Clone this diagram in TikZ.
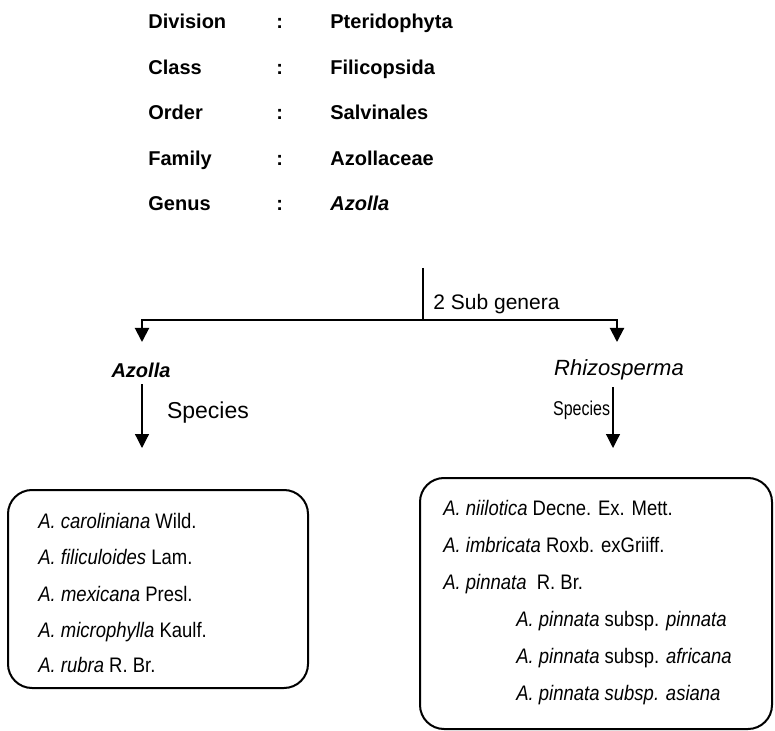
\documentclass[tikz,border=0pt]{standalone}
\usepackage{fontspec}
\setmainfont{Liberation Sans}
\usetikzlibrary{arrows.meta,positioning,calc}

\begin{document}
\begin{tikzpicture}[x=0.5pt,y=-0.5pt,
    font=\fontsize{9}{11}\selectfont,
    rank/.style={anchor=base west,inner sep=0pt,font=\fontsize{10}{12}\selectfont\bfseries},
    branch/.style={line width=1pt},
    tip/.style={-{Triangle[width=7pt,length=7pt]}},
    spbox/.style={draw,line width=1pt,rounded corners=12pt},
    item/.style={anchor=base west,inner sep=0pt,xscale=0.88,font=\fontsize{10.5}{12}\selectfont}]
    \useasboundingbox (0,0) rectangle (775,731);

    % Classification
    \foreach \r/\v/\y [count=\i] in {Division/Pteridophyta/29, Class/Filicopsida/75,
        Order/Salvinales/120, Family/Azollaceae/166, Genus/\textit{Azolla}/211} {
        \node[rank] (rank\i) at (148,\y) {\r};
        \node[rank] (colon\i) at (276,\y) {:};
        \node[rank] (taxon\i) at (330,\y) {\v};
    }

    % Sub genera
    \coordinate (stem) at (423,268);
    \coordinate (fork) at (423,320);
    \coordinate (lefthead) at (142,342);
    \coordinate (righthead) at (617,342);
    \draw[branch] (stem) -- (fork);
    \draw[branch,tip] (fork) -| (lefthead);
    \draw[branch,tip] (fork) -| (righthead);
    \node[anchor=south west,inner sep=3pt,xshift=2pt,font=\fontsize{10.5}{12}\selectfont] (subgen) at (fork) {2 Sub genera};

    \node[font=\fontsize{10}{12}\selectfont\bfseries\itshape] (azolla) at (141,370) {Azolla};
    \node[font=\fontsize{11}{13}\selectfont\itshape] (rhizo) at (619,370) {Rhizosperma};

    % Species arrows
    \coordinate (leftsp) at (142,448);
    \coordinate (rightsp) at (613,448);
    \draw[line width=0.6pt,tip] (azolla.south -| leftsp) -- (leftsp);
    \draw[line width=0.6pt,tip] (rhizo.south -| rightsp) -- (rightsp);
    \node[anchor=west,font=\fontsize{11.5}{13}\selectfont] (species1) at (160,413) {Species};
    \node[anchor=east,inner sep=1pt,xscale=0.8,font=\fontsize{10}{12}\selectfont] (species2) at (612,410) {Species};

    % Species boxes
    \draw[spbox] (8,490) rectangle (308,688);
    \draw[spbox] (420,478) rectangle (772,729);
    \foreach \t/\y in {{\textit{A. caroliniana} Wild.}/528, {\textit{A. filiculoides} Lam.}/564,
        {\textit{A.\hspace{3pt}mexicana} Presl.}/601, {\textit{A. microphylla} Kaulf.}/637,
        {\textit{A. rubra} R. Br.}/672}
        \node[item] at (38,\y) {\t};
    \foreach \t/\x/\y in {{\textit{A. niilotica} Decne. Ex. Mett.}/443/515,
        {\textit{A. imbricata} Roxb. exGriiff.}/443/552,
        {\textit{A. pinnata}\ \ R. Br.}/443/589,
        {\textit{A. pinnata} subsp. \textit{pinnata}}/516/626,
        {\textit{A. pinnata} subsp. \textit{africana}}/516/663,
        {\textit{A. pinnata subsp. asiana}}/516/700}
        \node[item] at (\x,\y) {\t};
\end{tikzpicture}
\end{document}
